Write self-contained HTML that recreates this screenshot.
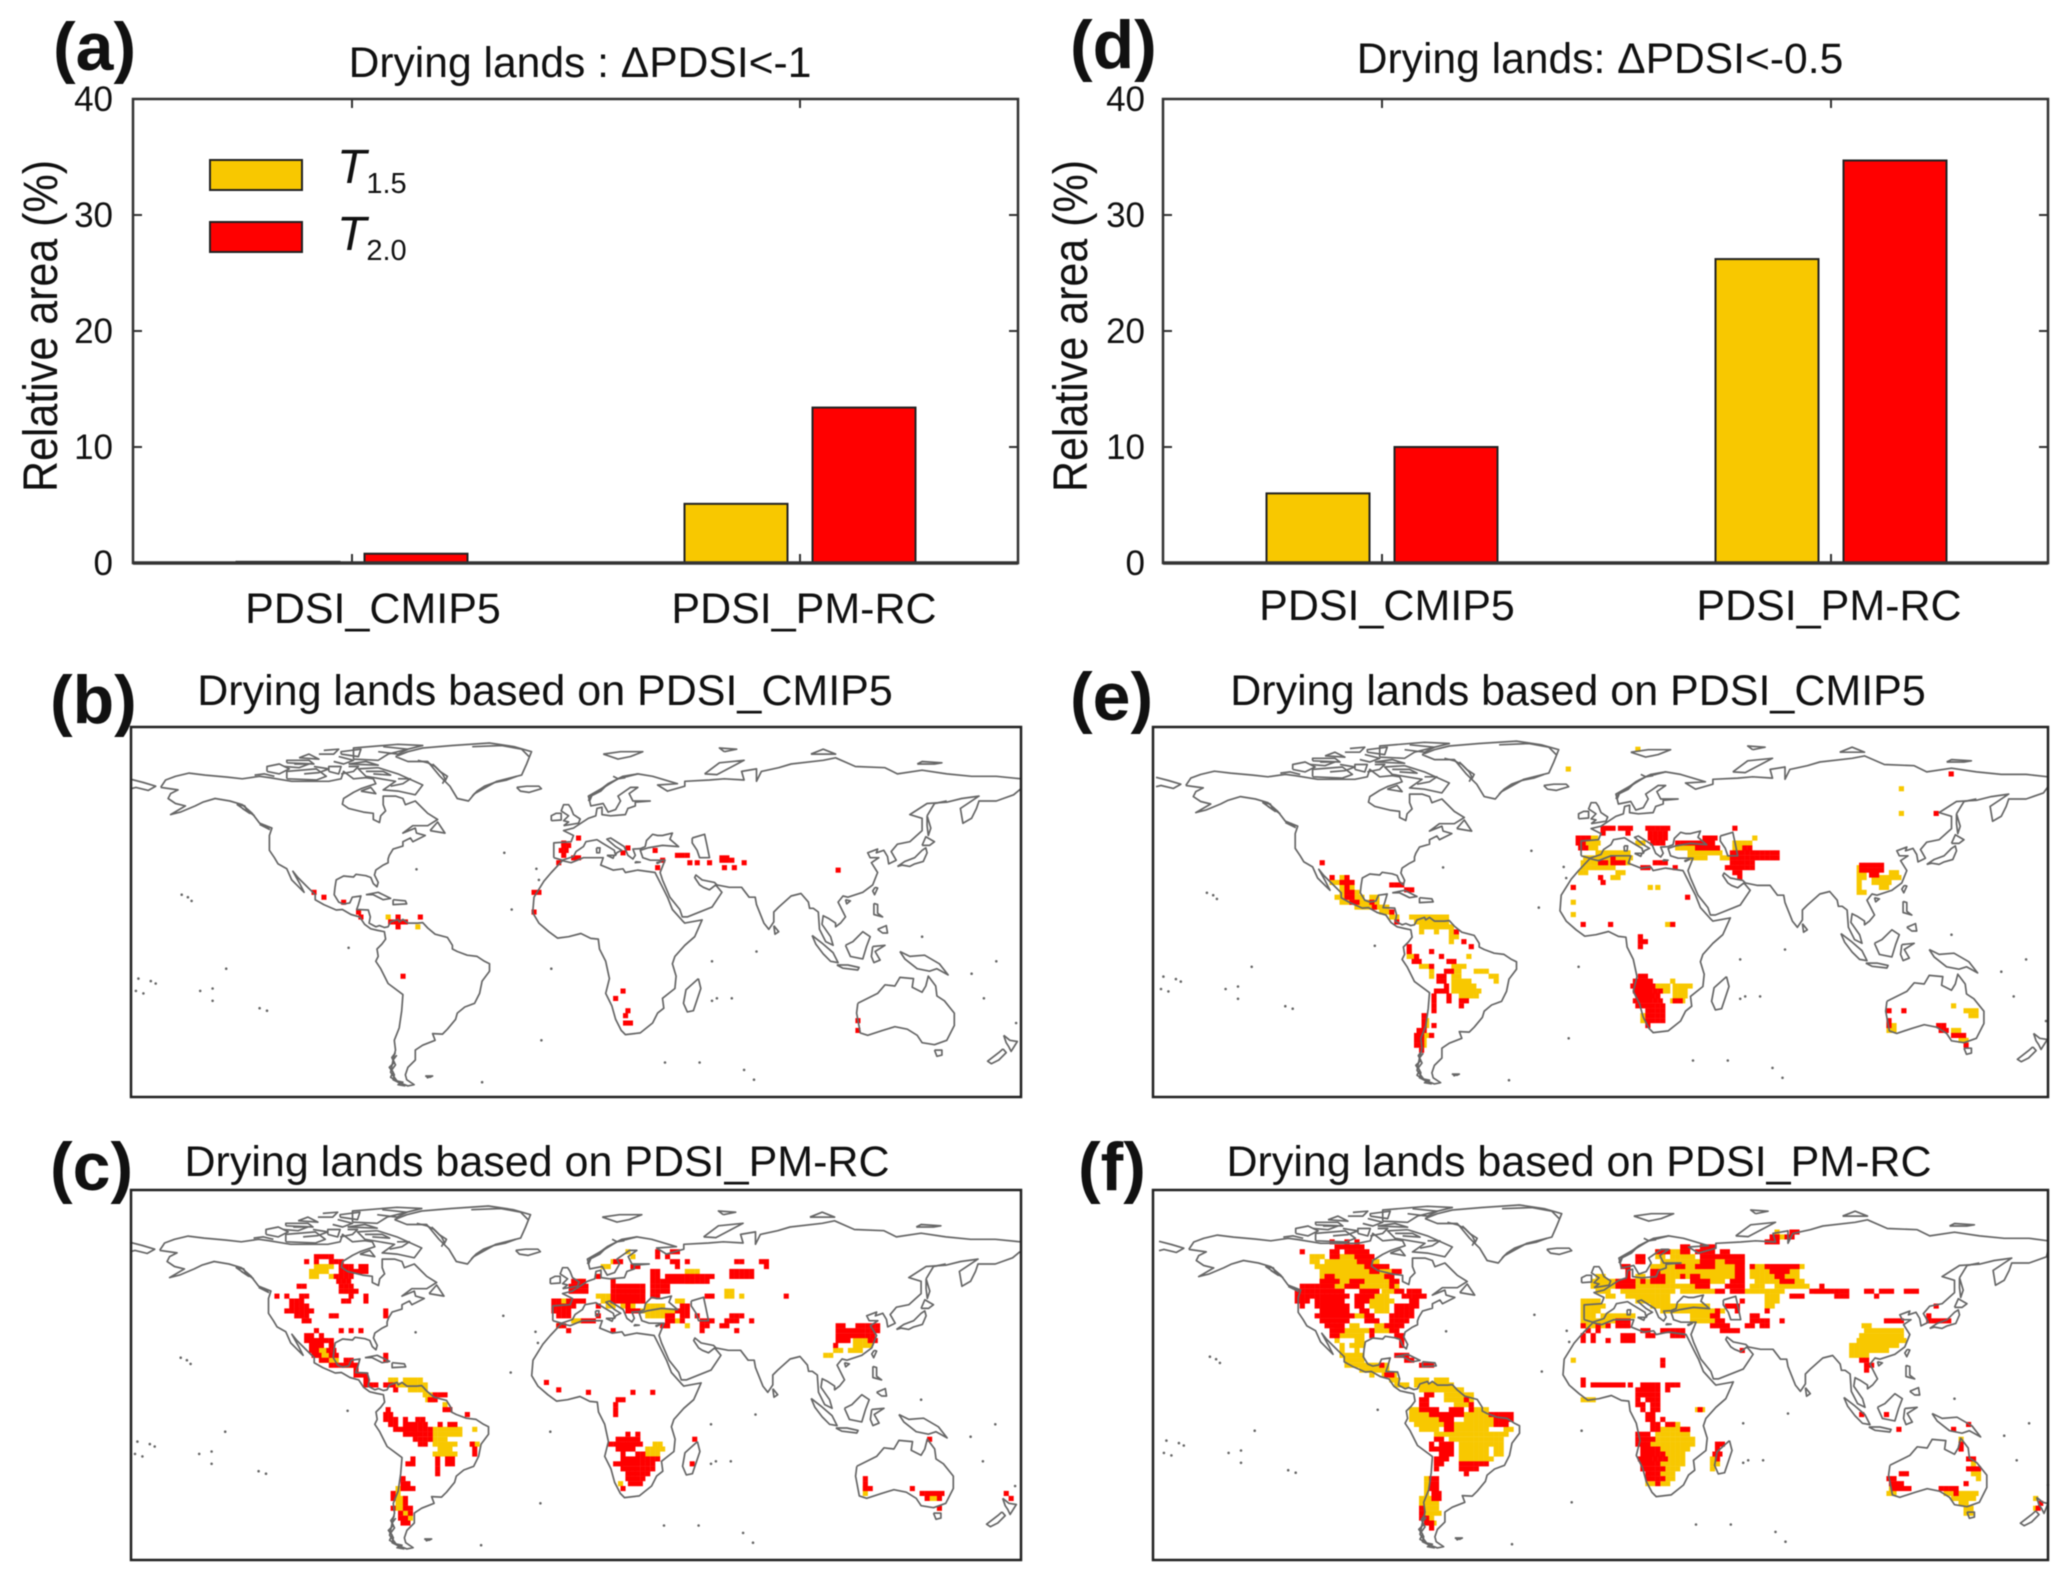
<!DOCTYPE html>
<html lang="en">
<head>
<meta charset="utf-8">
<title>Drying lands under T1.5 and T2.0 warming</title>
<style>
html,body{margin:0;padding:0;background:#fff;}
svg{display:block;font-family:"Liberation Sans",Arial,sans-serif;fill:#111;filter:blur(0.5px);}
</style>
</head>
<body>
<svg id="figure" xmlns="http://www.w3.org/2000/svg" width="2067" height="1579" viewBox="0 0 2067 1579">
<rect x="0" y="0" width="2067" height="1579" fill="#fff"/>
<text x="53" y="70" font-size="68" font-weight="bold">(a)</text>
<text x="50" y="723" font-size="68" font-weight="bold">(b)</text>
<text x="50" y="1190" font-size="68" font-weight="bold">(c)</text>
<text x="1070" y="68" font-size="68" font-weight="bold">(d)</text>
<text x="1070" y="720" font-size="68" font-weight="bold">(e)</text>
<text x="1078" y="1190" font-size="68" font-weight="bold">(f)</text>
<text x="580" y="77" font-size="42.6" text-anchor="middle">Drying lands : ΔPDSI&lt;-1</text>
<text x="1600" y="73" font-size="42.6" text-anchor="middle">Drying lands: ΔPDSI&lt;-0.5</text>
<text x="545" y="705" font-size="43" text-anchor="middle">Drying lands based on PDSI_CMIP5</text>
<text x="1578" y="705" font-size="43" text-anchor="middle">Drying lands based on PDSI_CMIP5</text>
<text x="537" y="1176" font-size="43" text-anchor="middle">Drying lands based on PDSI_PM-RC</text>
<text x="1579" y="1176" font-size="43" text-anchor="middle">Drying lands based on PDSI_PM-RC</text>
<text transform="translate(57,326) rotate(-90) scale(1,1.12)" font-size="43" text-anchor="middle">Relative area (%)</text>
<text transform="translate(1087,326) rotate(-90) scale(1,1.12)" font-size="43" text-anchor="middle">Relative area (%)</text>
<g id="layer-bars"></g>
<g id="layer-maps"></g>
<g>
<rect x="210" y="160" width="92" height="30" fill="#f8c800" stroke="#222" stroke-width="2"/>
<rect x="210" y="222" width="92" height="30" fill="#ff0000" stroke="#222" stroke-width="2"/>
<text x="337" y="183" font-size="48"><tspan font-style="italic">T</tspan><tspan dy="10" font-size="29">1.5</tspan></text>
<text x="337" y="250" font-size="48"><tspan font-style="italic">T</tspan><tspan dy="10" font-size="29">2.0</tspan></text>
</g>
</svg>
<script>
const barCategories = ['PDSI_CMIP5', 'PDSI_PM-RC'];
const yTickValues = [0, 10, 20, 30, 40];
const panelAT15 = [0.1, 5.1];
const panelAT20 = [0.8, 13.4];
const panelDT15 = [6.0, 26.2];
const panelDT20 = [10.0, 34.7];

// Coastlines as [lon, lat, lon, lat, ...]
const coastMainlandAmericas = [-168,65.5,-166,68.5,-162,70,-156.5,71.3,-150,70.5,-141,69.7,-135,69,-128,70,-124,69.5,-115,68,-108,68,-100,68,-95,69,-94,72,-90,69,-85,69.5,-82,69,-81,67,-87,65,-90,63.5,-94,61,-94.5,58.7,-92,57,-86,55.5,-82,55,-82,52.5,-79.5,51.3,-79,54,-77,56,-78,58.5,-78,62,-73,62,-70,61,-69,58.5,-65,60,-62,57,-60,55,-56,52.5,-60,50,-66,50,-70,47,-65,49,-64.5,47,-61,46,-64,44.5,-66,43.5,-67,45,-70,43.5,-70,41.7,-74,40.5,-75.5,38,-76,36.5,-76,35,-78,34,-81,32,-81.5,30,-80,27,-80.5,25.2,-82,26.5,-83,29,-85,29.7,-89,30.3,-90,29.2,-94,29.6,-97,28,-97.5,25,-97.8,22,-96,19,-94,18.2,-91.5,18.7,-90.5,21,-87,21.5,-88,18,-88.7,16,-84,15.8,-83.2,13,-83.7,10.5,-81,9,-79.5,9.5,-77.5,8.7,-76,9,-75,11,-72,12,-71.5,11,-70,12,-68,10.5,-64,10.5,-62,10.7,-60,8.5,-57,6,-52,4.7,-50,1.5,-50,0,-48,-1,-44,-2.5,-40,-3,-37,-5,-35,-6,-35,-9,-38,-13,-39,-18,-41,-22,-45,-23.5,-48,-26,-48.7,-28.5,-52,-32.5,-54,-34.5,-58,-34.3,-57,-37,-62,-39,-65,-41,-65,-45,-68,-48,-69,-51,-68.5,-53,-65.5,-55,-68,-55.5,-72,-54,-75,-50,-74,-45,-73,-41,-73.5,-37,-71.5,-32,-70.5,-25,-70,-18.5,-76,-14,-79,-8,-81,-5,-80,-3,-80.5,0,-78.5,2,-77,4,-77.5,7,-80,7.5,-83,8.2,-85.5,10,-87.5,13,-91,14,-94.5,16,-97,15.8,-102,18,-105.5,20,-105.5,22,-109,25.5,-112.5,29,-114.5,31.5,-112,27,-110,23,-112,25,-115,28,-117,32.5,-120.5,34.5,-122,37,-124,40,-124,46,-123,49,-128,51,-131,55,-135,58.5,-140,60,-146,61,-151,59.5,-154,58,-160,55.5,-164,54.5,-158,58,-162,59,-165,61,-164,63,-161,64.5,-168,65.5];
const coastEurasiaNorth = [-9,37,-9,43,-2,43.5,-1,46,-5,48,-1,49,2,51,5,53,8,54,8.5,57,10.5,57.5,10.5,54.5,14,54,20,54.5,21,57,24,58,24,59.5,30,60,23,60,21.5,63,25,65.5,22,65.5,17,62,18,60,16,56.5,13,55.5,11,59,6,58,5,62,12,66,17,69,25,71,31,70,41,67,33,66.5,37,64,44,66,44,68,54,68.5,60,69,68,68.5,67,72,73,73,73,68,75,72,82,73.5,87,75,100,76.5,105,77.5,113,74,125,73.5,130,71,140,72.5,150,71,160,70,170,70,180,69];
const coastEurasiaSouth = [180,65,177,62.5,170,60,163,60,162,57,160,53,156.5,51,155.5,57,163,62,156,61,150,59.5,142,59,135,54.5,140,53,140,48,135,43.5,130,42.5,127.5,39.5,129.5,36,126.5,34.5,126,37.5,124.5,40,121.5,39,122,40.5,118,39,119,37,122.5,37,119.5,35,122,31,120,26,116,23,110,21,108,21.5,106,19,109,13,107,10.5,105,9,105,10.5,102,12.5,100,13.5,99.5,10,103,5,104,1.5,101,3,98.5,8,98,15,96,16.5,94.5,16.5,94,19,91,22.5,87,21.5,82,17,80,15,80,11,78,8,76,10.5,73,18,72.5,21,70,21,67,25,62,25,57,26,56,27,51,28,48.5,30,48,29,50,26,51.5,25,54,24,56.5,26,59,23,55,17,45,13,43,13,42,16,38,21,35,28,34,31,36,36,30,36,27,37,26,40,29,41,35,42,41.5,41.5,38,44.5,39,47,35,46,33,46,31,46.5,28.5,44,28,41.5,26,40.7,23,40.5,24,38,23,36.5,21,38,19.5,41.5,14,45,12.5,44.5,16,41.5,18.5,40,16.5,39,16,38,15.5,40,10.5,43,8.5,44.3,4,43.5,3,41.5,0,39.5,-1,37.5,-5.5,36,-9,37];
const coastChukotka = [-180,68.8,-175,67.5,-170,66,-173,64.3,-178,65.5,-180,65];
const coastAfrica = [-5.5,35.8,-10,31,-13,27.5,-17,21,-17.5,14.7,-15,10.5,-11,7,-7.5,4.4,-3,5,2,6.3,6,4.3,9,4,9.5,0,12,-5,13.5,-12,12,-18,14.5,-23,16,-28.5,18.3,-33,20,-34.7,26,-34,31,-30,33,-26,35.5,-24,35,-20,40,-16,40.5,-11,39,-6,40,-3,44,1.5,48,5,51,11.8,44,10.5,43,11.5,39,16,37,21,35.5,24,32.5,30,32,31,25,32,20,31,19,32.5,15,32,10,34,11,37,3,37,-2,35,-5.5,35.8];
const coastAustralia = [114,-22,113.5,-26,115,-34,118,-35,124,-33,129,-31.5,134,-32.5,138,-35,140,-38,145,-38.8,150,-37,153,-31,153,-26,149,-21,146,-19,145.5,-15,142.5,-11,141.5,-15,140,-17.5,136,-15.5,136.5,-12,131,-11.5,129,-15,125,-14.5,122,-18,114,-22];
const coastGreenland = [-73,78,-68,76,-60,76,-55,70,-51,66,-48,61,-43.5,60,-41,63,-32,68,-22,70.5,-20,75,-18,80,-25,82,-35,83.5,-50,82.5,-62,81.5,-68,80,-73,78];
const coastIslands = [
[-80,73.5,-72,71,-62,66.5,-65,62.5,-72,64,-78,64.5,-73,68,-85,70,-88,73,-80,73.5],
[-90,77,-80,76.5,-76,79,-62,82.5,-72,83,-90,81.5,-90,77],
[-117,69,-105,68.5,-101,70,-105,73,-117,72,-117,69],
[-125,72,-120,71,-116,73,-120,75,-125,74,-125,72],
[-117,75.5,-106,75,-108,76.5,-117,76.5,-117,75.5],
[-92,75,-80,74.5,-85,76,-92,75],
[-95,79,-88,78,-87,81,-95,80,-95,79],
[-100,72,-96,71,-95,74,-100,74,-100,72],
[-112,77.5,-104,77,-108,79,-112,77.5],
[-87,64,-81,63,-83,65.5,-87,64],
[-59,48,-56,51.5,-53,47,-59,48],
[-128,50.5,-124,48.5,-125.5,50,-128,50.5],
[-85,22,-80,23,-75,20.5,-78,20,-82,22,-85,22],
[-74,20,-69,19.5,-68.5,18.3,-74,18,-74,20],
[-61,-51.5,-58,-51.5,-59,-52,-61,-51.5],
[49.5,-12,50.5,-16,47.5,-25,45,-25.5,43.5,-22,44.5,-16.5,49.5,-12],
[145,-41,148,-41,148,-43,146,-43.5,145,-41],
[173,-35,175.5,-37,178.5,-37.5,176,-41.5,175,-39.5,174,-38,173,-35],
[172.7,-40.5,174,-42,171,-45,168,-46.5,166.5,-45.5,171,-42,172.7,-40.5],
[95.5,5.5,100,2,104,-1.5,106,-5.5,103,-5,100,-2,97,2,95.5,5.5],
[109,1.5,112,3,116,7,119,5,117.5,1,116,-4,111,-3,109,1.5],
[105.5,-6.5,110,-6.5,114.5,-7.5,114,-8.5,108,-7.8,105.5,-6.5],
[120,1,125,1.5,121,-1,123,-4.5,120.5,-5.5,119.5,-3,120,1],
[131,-1,135,-3,141,-2.5,147,-6,150.5,-10.5,146,-8,143,-9,138,-8,133,-4,131,-1],
[120.5,18.5,122,18,122,14.5,124,13,120.5,14,120.5,18.5],
[122,8,125.5,9.5,126,6.5,124,6.5,122,8],
[121,25,122,24.7,120.8,22,120,23.5,121,25],
[109,20,111,19.5,109.5,18.3,109,20],
[80,9.5,82,7,80.5,6,80,9.5],
[130,33.5,133,35.5,137,37,140,40,141.5,41,142,39,140.5,35.5,137,34.5,135,33.5,132,34,130,33.5],
[140,42,141.5,45.5,145,43.5,143,42,140,42],
[142,54,143.5,49,142.5,46,142,50,142,54],
[-5,50,1,51,1.7,52.7,-1,54.5,-2,57,-3,58.5,-5,58.5,-6,56,-3,54,-5,52,-3,51.5,-5,50],
[-10,52,-6,52.3,-6,55,-8,55,-10,54,-10,52],
[-24,65.5,-20,66,-15,66,-14,65,-19,63.5,-22.5,64,-24,65.5],
[11,79,17,77,22,78,27,80,18,80,11,79],
[52,71,57,70.7,68,76.5,58,75.5,52,71],
[95,79,105,79,100,81,95,79],
[138,75,145,75,148,75.5,140,76,138,75],
[47,45,52,46.5,53,42,54,37,50,37,49,40,47,43,47,45],
[12.5,38,15.5,38,15,36.8,12.5,38],
[8.3,41,9.7,41,9.5,39,8.4,39,8.3,41],
[24,35.4,26,35.2,24,35,24,35.4],
[32.5,35,34.5,35.5,33,34.7,32.5,35],
[5,60,6,62,8,63,10,64,12,66,14,67.5,16,68.5,19,70,22,70.5,25,71],
[5.5,60,6.5,62.5,9,64,11,65.5,13,67,15,68,18,69.5,21,70],
[-73,-42,-74.5,-44,-73.5,-46,-75.5,-48,-74,-50,-75,-52,-72.5,-53.5,-70,-54,-72,-55,-69,-55.5],
[-72.5,-43,-74,-45,-73,-47,-74.5,-49,-73.5,-51,-74,-53,-71,-54.5],
[-130,54,-133,56,-134,58,-137,58.5,-132,55,-135,57],
[-42,62,-40,64,-37,66,-33,67.5,-28,68.5,-24,70],
[-53,68,-52,70,-55,72,-57,74,-60,75.5,-64,76.5],
[-54,67,-53,69,-54,71,-56,73,-58,75],
[-42,82,-30,82.5,-22,81,-19,78],
[-110,71,-104,71.5,-100,73,-106,74],
[-98,76,-94,75,-90,76.5,-96,78],
[-80,80,-72,79,-68,81,-78,82],
[-118,74,-112,73.5,-108,75,-114,75],
[-95,71,-90,72,-88,74,-92,74],
[-85,72,-78,72,-75,70.5,-82,71],
[-130,70.5,-126,71,-122,70],
[-104,79,-98,79,-96,81,-102,80.5],
[-75,66,-70,67,-67,69,-72,69],
[60,80,65,81,58,81.5,60,80],
[15,70,17,69,20,69.5],
[142,54,145,59,150,60]
];
// Small ocean islands as [lon, lat]
const oceanIslandsLon = [-159.5,-157,-155.5,-92,-141.5,-177,-172,-147,-175,-128,-147,-26,-29,-64.5,-15,-16,68,55,57,36,50,72,-38,-60,-170,-152,-125,-178,140,170,165,178,160,-10,-14,73,55,63];
const oceanIslandsLat = [22,21,19.5,0.5,-8,-12,-13,-16,-18,-24,-21,16,39,32.3,28,32.5,-49,-21,-20,-46,-46,-53,-54,-52,-14,-17,-25,-17,5,-5,-20,-30,-10,-8,-37,-1,-5,-20];

// Per-panel shift of the coastline relative to its frame, in degrees
const coastShiftLon = {b: 0, c: -0.4, e: 1.2, f: 2.4};
const coastShiftLat = {b: 0, c: 0, e: 0.8, f: 0.4};

// Drying cells: [lat, lon0, lon1, lon0, lon1, ...] on a 2-degree grid
const cellsBT15 = [[12,-77,-75],[10,-70,-68],[8,-65,-63],[14,-89,-87]];
const cellsBT20 = [[22,-107,-105],[20,-103,-101],[18,-95,-93],[14,-89,-87],[12,-88,-86],[12,-73,-71,-64,-62],[10,-76,-68],[8,-73,-71],[-12,-71,-69],[44,0,2],[42,-6,-4],[41,-6,-3],[39,-7,-3],[37,-6,-4],[36,-2,1],[34,-8,-6],[22,-18,-15],[14,-18,-16],[40,20,22],[38,18,20],[39,31,33],[37,40,46],[35,34,36],[32,32,34],[34,45,47,48,50,53,55],[36,58,62],[35,58,64],[32,59,61,63,65],[34,67,69],[31,105,107],[-18,18,20],[-21,15,17],[-26,20,22],[-28,19,21],[-31,19,22],[-30,113,115],[-34,113,115]];
const cellsCT15 = [[58,-106,-98],[56,-108,-100],[54,-108,-104,-100,-96],[48,-94,-90],[28,-106,-104],[26,-106,-102,-100,-98],[24,-107,-102],[22,-106,-98],[20,-104,-96],[18,-94,-90],[12,-76,-72,-70,-62],[10,-74,-60],[8,-68,-60],[6,-62,-58],[4,-61,-57],[2,-54,-52],[-8,-72,-68,-58,-46,-42,-40],[-10,-58,-46],[-12,-60,-52],[-14,-58,-48,-43,-40],[-16,-56,-50],[-18,-58,-48],[-32,-73,-71],[-34,-73,-71],[-36,-73,-70],[-38,-73,-69],[-40,-73,-70],[-42,-70,-68],[-44,-68,-66],
[64,20,22],[62,22,24],[60,14,16],[58,10,14],[56,44,50],[54,44,50,8,10],[52,1,3,44,48],[48,26,28,60,64],[46,8,14,60,64,66,68],[44,-8,4,10,16,22,28,40,44],[42,-8,-2,12,16,18,24,28,36],[40,26,40],[38,28,38],[36,-2,2,40,42],[34,-8,-6,36,38,44,46],
[-14,31,34],[-16,28,36],[-18,28,34],[-30,17,19],[28,112,120],[26,112,120],[24,104,107,110,115],[22,100,104],[-32,116,118],[-34,116,118],[-36,143,146],[-40,146,148]];
const cellsCT20 = [[62,-106,-98],[60,-110,-108,-106,-104,-100,-95],[58,-96,-90,-88,-84],[56,-96,-88,-88,-84],[54,-98,-90],[52,-97,-92],[50,-113,-110,-96,-90],[48,-96,-88],[46,-122,-120,-118,-116,-112,-109,-92,-90,-86,-84],[44,-116,-110,-95,-92,-86,-84],[42,-116,-108],[40,-118,-106,-78,-76],[38,-114,-108,-100,-96,-78,-76],[36,-111,-108],[32,-106,-104,-96,-94,-92,-90,-88,-86],[30,-110,-106,-104,-102],[28,-110,-98],[26,-108,-102,-100,-98],[24,-108,-104,-101,-98],[22,-107,-104,-100,-96,-78,-76],[20,-104,-100,-94,-90,-78,-76],[18,-100,-88],[16,-90,-88],[14,-90,-85],[12,-86,-84],[10,-86,-80,-78,-74],[10,-75,-73],[8,-74,-72],[6,-58,-52],[4,-60,-56],[0,-77,-75,-54,-50],[-2,-78,-74,-45,-43],[-4,-78,-72,-70,-68,-65,-61],[-6,-76,-72,-70,-60,-56,-54,-52,-48],[-8,-74,-58],[-10,-70,-64,-66,-58],[-12,-66,-58],[-14,-64,-60,-43,-41],[-16,-42,-40],[-18,-42,-40],[-20,-67,-65,-57,-55,-53,-49],[-22,-69,-65,-57,-55,-53,-50],[-24,-57,-55],[-26,-57,-55],[-28,-71,-69],[-30,-71,-67],[-32,-71,-65],[-34,-75,-73],[-36,-75,-73,-70,-68],[-38,-70,-68],[-40,-75,-73,-70,-66],[-42,-72,-70,-68,-66],[-44,-72,-68],[-46,-71,-68],
[64,32,34,38,42],[62,32,34,36,38],[60,15,18,38,42,44,46,64,68,74,78],[58,22,26,40,42,76,78],[56,30,34,62,72],[54,30,34,36,56,62,72,8,10],[52,-2,3,30,38,38,54,14,16],[50,-3,4,14,28,30,38],[48,-3,4,14,28,30,38],[46,14,28,30,34,52,56],[44,-10,-6,-4,4,14,28],[42,-10,0,8,10,20,22,42,46],[40,-10,-2,20,26,40,46],[38,-8,-2,8,10,36,40,42,46,48,50,62,68],[36,2,8,36,40,42,44,50,56,60,66,70,72],[34,-8,-4,34,38,50,54,58,62],[32,-4,-2,14,16,50,52,64,66],
[11,-13,-11],[8,-8,-6],[7,4,6],[7,22,24,30,32],[4,16,20],[2,15,17],[0,15,17],[-2,15,17],[-10,20,22,24,26],[-12,16,26,47,49],[-14,13,26],[-16,16,24],[-18,18,20,24,28],[-20,18,34],[-22,15,18,18,32,46,48],[-24,18,31],[-26,20,30],[-28,20,28],[-30,21,26],[-32,18,20],
[34,105,108,113,122],[32,105,122],[30,105,120],[28,105,110,118,122],[26,104,106],[46,84,86],
[-28,116,118],[-30,116,118],[-32,116,120,135,137],[-34,139,141,141,148],[-36,141,143,146,148],[-40,146,148],[-12,142,144],[-36,175,177],[-34,173,175]];
const cellsET15 = [[80,14,16],[72,-14,-12],[26,-109,-99],[24,-105,-99],[28,-105,-103],[22,-105,-97],[20,-107,-95,-93,-89],[18,-105,-89],[16,-99,-85],[14,-89,-83],[12,-85,-81],[12,-77,-62],[10,-75,-61],[8,-73,-59],[6,-73,-71,-67,-65,-61,-59],[4,-61,-57],[2,-61,-59],[-2,-78,-76],[-4,-78,-75,-54,-52],[-8,-73,-69,-60,-55],[-10,-69,-67,-60,-56,-51,-45],[-12,-69,-67,-60,-56,-45,-41],[-14,-60,-53,-43,-41],[-16,-60,-51],[-18,-60,-49],[-20,-57,-49],[-30,-71,-70],[-32,-71,-69],[-34,-72,-70],[-36,-72,-69],[-38,-72,-70],[-40,-72,-70],
[44,-7,-1,61,63],[42,-6,-1,14,18,53,61],[40,-5,-1,30,38,53,56],[38,-2,12,35,48],[36,-7,12,35,42,48,51],[34,-8,11],[32,-8,5],[30,-9,-5,6,10],[28,4,8],[24,-12,-10,19,21,22,24],[18,-12,-10],[13,-12,-10],[9,26,30],
[-14,28,30],[-16,22,27,29,36],[-18,24,28,29,34],[-20,29,34],[-22,28,34],[-28,16,18],[-30,16,18],
[32,103,106],[30,103,106,116,120],[28,103,106,109,120],[26,103,105,109,116],[24,103,105,112,115],[22,103,107],
[-32,115,118],[-34,115,118,141,145],[-36,141,145],[-38,144,147],[-24,141,143],[-26,146,152],[-28,148,152],[54,120,122],[64,120,122]];
const cellsET20 = [[34,-113,-111],[28,-109,-107,-103,-101],[26,-105,-99],[24,-103,-101],[22,-103,-99],[20,-103,-99],[18,-101,-97,-93,-91],[16,-92,-90],[14,-85,-83],[10,-83,-81],[25,-85,-79],[23,-79,-75],[6,-59,-57],[2,-56,-54],[0,-53,-51,-78,-76],[-2,-78,-76,-69,-67],[-4,-75,-73,-65,-63],[-6,-76,-73,-62,-58],[-8,-69,-67],[-10,-61,-59,-63,-61],[-12,-66,-62],[-14,-66,-62],[-16,-63,-61],[-18,-67,-61],[-20,-68,-66,-62,-60],[-22,-68,-66,-57,-54,-62,-60],[-24,-68,-66,-57,-55],[-26,-68,-66],[-28,-72,-71],[-30,-72,-70],[-32,-72,-70,-68,-66],[-34,-74,-71],[-36,-75,-72,-69,-68],[-38,-75,-72],[-40,-75,-72],[-42,-73,-71],
[48,0,6,7,13,18,27,53,55],[46,0,2,10,12,19,27],[44,-10,-5,19,26,41,46],[42,-10,-6,20,25,30,46],[40,-9,-5,38,47,57,61],[38,52,71],[36,52,71,4,6],[34,52,61,-1,2,4,9,21,26],[32,50,62,16,19,29,31],[30,53,57],[28,-1,1,55,57],[26,0,2],[24,-12,-10],[20,34,36],[9,-8,-6,3,5,28,30],[4,15,17],[2,15,17,17,19],[0,15,17],
[-12,15,19],[-14,13,21],[-16,12,22],[-18,13,24],[-20,14,24],[-22,13,25,29,32],[-24,14,25],[-26,18,25],[-28,18,25],[-30,18,26],[-32,18,20],
[33,104,113],[31,104,113],[29,108,112],[70,140,142],
[-26,115,117,121,123],[-30,115,117],[-32,115,117,135,139],[-34,136,140],[-36,141,146],[-40,146,148],[54,134,136]];
const cellsFT15 = [[62,-117,-111,-107,-91],[60,-117,-113,-111,-89],[58,-115,-85],[56,-113,-83],[54,-113,-85],[52,-113,-81],[50,-107,-81],[48,-88,-80],[46,-91,-85],[44,-93,-83],[42,-93,-85],[40,-91,-85],[38,-99,-95],[34,-101,-97,-91,-83],[32,-107,-83],[30,-105,-95],[28,-107,-105,-99,-95],[26,-105,-103,-101,-95],[24,-105,-103,-99,-97],[22,-105,-95],[20,-103,-95],[18,-103,-86],[16,-97,-85],[14,-93,-91,-88,-82],[12,-85,-81],[10,-83,-77],[12,-75,-69,-67,-61],[10,-75,-59],[8,-73,-55],[6,-71,-67,-63,-51],[4,-63,-51],[2,-59,-53],[0,-77,-73,-53,-45],[-2,-77,-69,-55,-45],[-4,-77,-65,-55,-43],[-6,-75,-63,-59,-41],[-8,-73,-65,-59,-45,-39,-35],[-10,-67,-37],[-12,-61,-39],[-14,-57,-39],[-16,-57,-45,-43,-39],[-18,-57,-45,-43,-39],[-20,-57,-43],[-28,-71,-69],[-30,-71,-69],[-32,-71,-69],[-34,-71,-69],[-36,-73,-67],[-38,-73,-65],[-40,-73,-65],[-42,-72,-65],[-44,-71,-67],[-46,-70,-67],
[72,70,72],[70,72,74],[64,22,36],[62,22,26,28,38],[60,16,18,24,40,42,58],[58,20,56,60,82],[56,22,56,60,80],[54,-2,2,14,18,22,56,60,80],[52,-4,30,36,50,62,82],[50,-4,6,14,40,60,66,70,84],[48,-2,4,8,30,32,46,58,74,86,92],[46,2,6,10,28,66,72],[44,-8,0,14,28,66,72],[42,-8,2,20,44,66,70],[40,-8,0,24,50],[38,-8,-2,0,14,36,48],[36,-8,8,36,46],[34,-8,2],
[34,105,109],[32,106,122],[30,104,122],[28,103,123],[26,100,120],[24,100,116],[22,100,108],
[4,-8,-2],[10,-4,0],[-4,20,22],[-6,28,32],[-8,24,36],[-10,22,36],[-12,20,38],[-14,20,38],[-16,24,36],[-18,26,34],[-20,26,34],[-22,24,34],[-24,24,32],[-26,24,30],[-28,26,30],[-30,18,22,24,28],[-20,44,46],[-22,44,48],[-24,44,46],[0,38,41],[20,-12,-10],
[-32,116,118],[-34,115,118,138,152],[-36,141,151],[-38,144,148],[-40,146,149],[-42,146,149],[-22,149,151],[-26,149,153],[-28,151,153],[-12,144,146],[-36,174,176],[-40,174,176]];
const cellsFT20 = [[68,-109,-107,-103,-101,-99,-97],[66,-107,-95],[64,-109,-105,-103,-93,-121,-119],[62,-109,-105,-99,-91],[60,-98,-93],[58,-95,-85],[56,-93,-89,-84,-80],[54,-111,-107,-87,-83],[52,-113,-105,-101,-95,-85,-81],[50,-121,-107,-103,-97,-85,-83],[48,-123,-103,-97,-89,-83,-80,-78,-72],[46,-123,-101,-99,-91,-80,-71],[44,-123,-117,-115,-103,-99,-93,-77,-73],[42,-121,-119,-115,-101,-99,-95,-83,-73],[40,-113,-101,-97,-93,-83,-75],[38,-115,-99,-95,-91,-85,-75],[36,-113,-101,-95,-89,-85,-77],[34,-111,-103,-87,-79],[32,-109,-103,-93,-91,-85,-81],[30,-109,-105,-93,-91,-83,-79],[28,-81,-79],[26,-81,-79],[22,-83,-77],[20,-79,-75],[18,-73,-67,-89,-87],[14,-87,-83],[6,-71,-67],[4,-73,-69,-55,-53],[2,-73,-69,-53,-51],[0,-73,-65,-61,-55,-53,-51],[-2,-69,-61,-61,-55,-45,-35],[-4,-65,-59,-43,-35],[-6,-63,-59,-43,-37],[-8,-63,-59],[-12,-67,-63],[-14,-69,-67,-65,-59],[-16,-69,-59],[-18,-65,-59],[-20,-67,-61],[-22,-67,-63,-57,-45],[-24,-67,-65,-57,-49],[-26,-55,-53],[-28,-69,-65],[-30,-69,-65],[-32,-69,-65],[-34,-68,-65],[-36,-68,-65],[-40,-73,-71],[-42,-73,-71],[-44,-73,-69],[-46,-71,-67],[-48,-69,-67],
[72,76,80],[70,68,72,74,78],[68,66,72],[66,32,36,40,46],[64,22,28,32,36,38,46,48,52],[62,14,18,40,58],[60,14,18,40,46,50,58],[58,8,12,30,34,38,46,54,58,60,62,66,80],[56,10,12,20,24,54,58,68,76],[54,10,12,20,26,32,34,36,40,54,58,70,74],[52,6,14,16,18,20,26,36,44,52,58,72,78],[50,6,14,38,44,50,58,88,90],[48,46,50,52,58,84,100,106,110,112,118,122,128],[46,94,100,76,82,110,112],[44,56,58],[42,50,54,54,56],[40,46,48,54,56,66,68],[38,60,64,44,48],[36,6,12,60,68,72,74,46,50],[34,6,12,44,52,58,62,64,68,-8,-6,-2,0,2,4],[32,16,20,24,34,48,56,-6,-4,-2,0],[30,8,14,18,22,28,34,-8,-6,-4,-2],[28,-8,-6,-4,-2,2,4,8,14],[24,56,58],[20,24,26],[18,24,26],[12,-8,-6],[10,-8,-6,-4,0,0,10,11,13,16,24,26,32],[8,14,24,26,28],[6,14,24],[4,14,16,18,24],[2,14,18,20,24],[0,16,18,20,24,39,41],[-2,18,22],[-4,18,22,24,26],[-6,20,24,26,30],[-8,20,24,32,36],[-10,14,20],[-12,14,22],[-14,14,20,46,50],[-16,16,24,46,48],[-18,16,26,45,48],[-20,15,26,46,48],[-22,16,24],[-24,16,26],[-26,18,24],[-28,18,26],[-30,22,24],
[36,114,122,131,140],[20,104,108],[18,106,110],[16,106,108],[42,134,136],[38,131,133],[-2,104,106],[-2,114,116],[-8,119,121],[-8,141,143],[-6,147,149],
[-28,115,119],[-30,116,122],[-32,117,124,136,143],[-34,142,144],[-14,144,146],[-16,144,146],[-20,147,150],[-24,147,152],[-30,146,148],[-26,120,124],[-38,176,178],[-40,175,177]];

const svgNS = 'http://www.w3.org/2000/svg';
const COLOR_T15 = '#f8c800';
const COLOR_T20 = '#ff0000';

function make(parent, tag, attrs) {
  const el = document.createElementNS(svgNS, tag);
  for (const k in attrs) el.setAttribute(k, attrs[k]);
  parent.appendChild(el);
  return el;
}

function drawBarPanel(id, box, t15, t20, catX, catStep, offset, barW, labelCenters, labelY, tickLabelRight) {
  const layer = document.getElementById('layer-bars');
  const g = make(layer, 'g', {});
  
  
  const yScale = v => box.y1 - (v / 40) * (box.y1 - box.y0);
  const xCat = i => catX + i * catStep;
  const ink = '#333';
  yTickValues.forEach(v => {
    const y = yScale(v);
    const left = make(g, 'line', {x1: box.x0, x2: box.x0 + 9, y1: y, y2: y, stroke: ink, 'stroke-width': 2});
    
    
    const right = make(g, 'line', {x1: box.x1 - 9, x2: box.x1, y1: y, y2: y, stroke: ink, 'stroke-width': 2});
    
    
    const label = make(g, 'text', {x: tickLabelRight, y: y + 12, 'font-size': 35, 'text-anchor': 'end'});
    label.textContent = String(v);
    
    
  });
  barCategories.forEach((c, i) => {
    const x = xCat(i);
    const bottom = make(g, 'line', {x1: x, x2: x, y1: box.y1 - 9, y2: box.y1, stroke: ink, 'stroke-width': 2});
    
    
    const top = make(g, 'line', {x1: x, x2: x, y1: box.y0, y2: box.y0 + 9, stroke: ink, 'stroke-width': 2});
    
    
    const label = make(g, 'text', {x: labelCenters[i], y: labelY, 'font-size': 43, 'text-anchor': 'middle'});
    label.textContent = c;
    
    
    const bar1 = make(g, 'rect', {x: x - offset - barW / 2, y: yScale(t15[i]), width: barW, height: yScale(0) - yScale(t15[i]), fill: COLOR_T15, stroke: '#222', 'stroke-width': 2});
    
    
    const bar2 = make(g, 'rect', {x: x + offset - barW / 2, y: yScale(t20[i]), width: barW, height: yScale(0) - yScale(t20[i]), fill: COLOR_T20, stroke: '#222', 'stroke-width': 2});
    
    
  });
  const frame = make(g, 'rect', {x: box.x0, y: box.y0, width: box.x1 - box.x0, height: box.y1 - box.y0, fill: 'none', stroke: ink, 'stroke-width': 2.5});
  
  
  const baseline = make(g, 'line', {x1: box.x0, x2: box.x1, y1: box.y1, y2: box.y1, stroke: ink, 'stroke-width': 3.5});
  
  
}

function pointsFrom(flat, lonX, latY) {
  const out = [];
  for (let i = 0; i < flat.length; i += 2) out.push(lonX(flat[i]).toFixed(1) + ',' + latY(flat[i + 1]).toFixed(1));
  return out.join(' ');
}

function drawCells(g, rows, lonX, latY, color, name) {
  rows.forEach(row => {
    const lat = row[0];
    for (let i = 1; i < row.length; i += 2) {
      for (let lon = row[i]; lon < row[i + 1]; lon += 2) {
        const cell = make(g, 'rect', {x: lonX(lon).toFixed(1), y: latY(lat + 2).toFixed(1), width: (lonX(lon + 2) - lonX(lon) + 0.2).toFixed(1), height: (latY(lat) - latY(lat + 2) + 0.2).toFixed(1), fill: color});
        
        
      }
    }
  });
}

function drawMapPanel(id, box, t15Rows, t20Rows) {
  const layer = document.getElementById('layer-maps');
  const g = make(layer, 'g', {});
  
  
  const lonX = lon => box.x0 + (lon + 180) / 360 * (box.x1 - box.x0);
  const latY = lat => box.y0 + (90 - lat) / 150 * (box.y1 - box.y0);
  const coastX = lon => Math.min(box.x1, lonX(lon + coastShiftLon[id]));
  const coastY = lat => latY(lat + coastShiftLat[id]);
  drawCells(g, t15Rows, lonX, latY, COLOR_T15, 'drying-cell-t15');
  drawCells(g, t20Rows, lonX, latY, COLOR_T20, 'drying-cell-t20');
  const coastAll = [coastMainlandAmericas, coastEurasiaNorth, coastEurasiaSouth, coastChukotka, coastAfrica, coastAustralia, coastGreenland].concat(coastIslands);
  coastAll.forEach(flat => {
    const line = make(g, 'polyline', {points: pointsFrom(flat, coastX, coastY), fill: 'none', stroke: '#666', 'stroke-width': 1.7, 'stroke-linejoin': 'round'});
    
    
  });
  oceanIslandsLon.forEach((lon, i) => {
    const dot = make(g, 'circle', {cx: coastX(lon).toFixed(1), cy: coastY(oceanIslandsLat[i]).toFixed(1), r: 1.3, fill: '#666'});
    
    
  });
  const frame = make(g, 'rect', {x: box.x0, y: box.y0, width: box.x1 - box.x0, height: box.y1 - box.y0, fill: 'none', stroke: '#222', 'stroke-width': 2.5});
  
  
}

drawBarPanel('a', {x0: 133, x1: 1018, y0: 99, y1: 563}, panelAT15, panelAT20, 352, 448, 64, 103, [373, 804], 623, 113);
drawBarPanel('d', {x0: 1163, x1: 2048, y0: 99, y1: 563}, panelDT15, panelDT20, 1382, 449, 64, 103, [1387, 1829], 620, 1145);
drawMapPanel('b', {x0: 131, x1: 1021, y0: 727, y1: 1097}, cellsBT15, cellsBT20);
drawMapPanel('c', {x0: 131, x1: 1021, y0: 1190, y1: 1560}, cellsCT15, cellsCT20);
drawMapPanel('e', {x0: 1153, x1: 2048, y0: 727, y1: 1097}, cellsET15, cellsET20);
drawMapPanel('f', {x0: 1153, x1: 2048, y0: 1190, y1: 1560}, cellsFT15, cellsFT20);
</script>
</body>
</html>
